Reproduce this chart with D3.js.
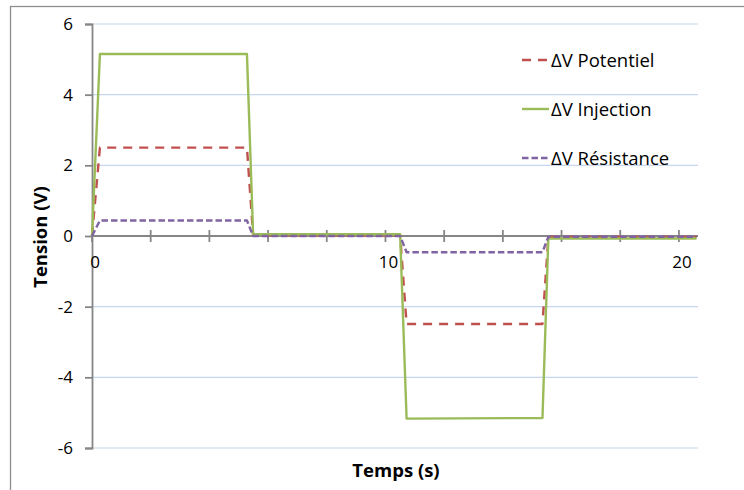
<!DOCTYPE html>
<html>
<head>
<meta charset="utf-8">
<script src="https://cdn.jsdelivr.net/npm/d3@7"></script>
<style>
  html, body { margin: 0; padding: 0; background: #fff; }
  svg { display: block; font-family: "Open Sans", Lato, sans-serif; }
</style>
</head>
<body>
<svg id="chart" width="744" height="490"></svg>
<script>
// ---- data ----
const time        = [0, 0.27, 5.28, 5.49, 10.50, 10.72, 15.35, 15.55, 20.60];
const potentiel   = [0, 2.50, 2.50, 0.02, 0.02, -2.49, -2.49, -0.03, -0.03];
const injection   = [0, 5.15, 5.15, 0.05, 0.05, -5.17, -5.15, -0.07, -0.07];
const resistance  = [0, 0.44, 0.44, 0.00, 0.00, -0.46, -0.46, -0.02, -0.02];
const seriesNames = ["ΔV Potentiel", "ΔV Injection", "ΔV Résistance"];
const yTicks      = [-6, -4, -2, 0, 2, 4, 6];
const xMinorTicks = [0, 2, 4, 6, 8, 10, 12, 14, 16, 18, 20];
const xLabels     = [0, 10, 20];
const xTitle      = "Temps (s)";
const yTitle      = "Tension (V)";

const svg = d3.select("#chart");
const FONT = '"Open Sans", Lato, sans-serif';

const x = d3.scaleLinear().domain([0, 20.65]).range([92, 698]);
const y = d3.scaleLinear().domain([-6, 6]).range([448, 24]);

// outer border
svg.append("rect").attr("x", 10.5).attr("y", 6.5).attr("width", 740).attr("height", 495)
  .attr("fill", "none").attr("stroke", "#8e8e8e").attr("stroke-width", 1.3);

// grid lines
svg.append("g").selectAll("line").data(yTicks.filter(d => d !== 0)).join("line")
  .attr("x1", x(0)).attr("x2", x(20.65))
  .attr("y1", d => y(d)).attr("y2", d => y(d))
  .attr("stroke", "#c6d6ee").attr("stroke-width", 1.2);

// y axis
const yAxis = d3.axisLeft(y).tickValues(yTicks).tickSize(7).tickPadding(11).tickFormat(d => String(d));
const gy = svg.append("g").attr("transform", `translate(${x(0)},0)`).call(yAxis);
gy.select(".domain").attr("stroke", "#868686").attr("stroke-width", 1.8);
gy.selectAll(".tick line").attr("stroke", "#868686").attr("stroke-width", 1.8);
gy.selectAll(".tick text").attr("font-size", 17).attr("fill", "#000")
  .attr("font-family", FONT).attr("dx", -1);

// x axis (at y = 0) with crossing tick marks
const xAxisLine = svg.append("g");
xAxisLine.append("line").attr("x1", x(0)).attr("x2", x(20.65))
  .attr("y1", y(0)).attr("y2", y(0)).attr("stroke", "#868686").attr("stroke-width", 1.8);
xAxisLine.selectAll("line.tk").data(xMinorTicks).join("line").attr("class", "tk")
  .attr("x1", d => x(d)).attr("x2", d => x(d))
  .attr("y1", y(0) - 6).attr("y2", y(0) + 6)
  .attr("stroke", "#868686").attr("stroke-width", 1.8);
xAxisLine.selectAll("text").data(xLabels).join("text")
  .attr("x", d => x(d) + 3).attr("y", y(0) + 32)
  .attr("text-anchor", "middle").attr("font-size", 17).attr("fill", "#000")
  .text(d => d);

// series lines
const line = vals => d3.line().x((d, i) => x(time[i])).y(d => y(d))(vals);
const styles = [
  { vals: potentiel,  color: "#c0504d", dash: "9,7" },
  { vals: injection,  color: "#9bbb59", dash: null },
  { vals: resistance, color: "#8064a2", dash: "6.5,3" }
];
svg.append("g").selectAll("path").data(styles).join("path")
  .attr("d", s => line(s.vals))
  .attr("fill", "none").attr("stroke", s => s.color).attr("stroke-width", 2.4)
  .attr("stroke-linejoin", "round")
  .attr("stroke-dasharray", s => s.dash);

// legend
const lg = svg.append("g").selectAll("g").data(styles).join("g")
  .attr("transform", (s, i) => `translate(522,${60 + i * 49})`);
lg.append("line").attr("x1", 0).attr("x2", 27).attr("y1", 0).attr("y2", 0)
  .attr("stroke", s => s.color).attr("stroke-width", 2.4)
  .attr("stroke-dasharray", s => s.dash);
lg.append("text").attr("x", 29).attr("y", 6.5).attr("font-size", 18.5).attr("fill", "#000")
  .text((s, i) => seriesNames[i]);

// axis titles
svg.append("text").attr("x", 396).attr("y", 477).attr("text-anchor", "middle")
  .attr("font-size", 18.5).attr("font-weight", "bold").attr("fill", "#000").text(xTitle);
svg.append("text").attr("transform", "translate(47,237) rotate(-90)").attr("text-anchor", "middle")
  .attr("font-size", 18.5).attr("font-weight", "bold").attr("fill", "#000").text(yTitle);
</script>
</body>
</html>
